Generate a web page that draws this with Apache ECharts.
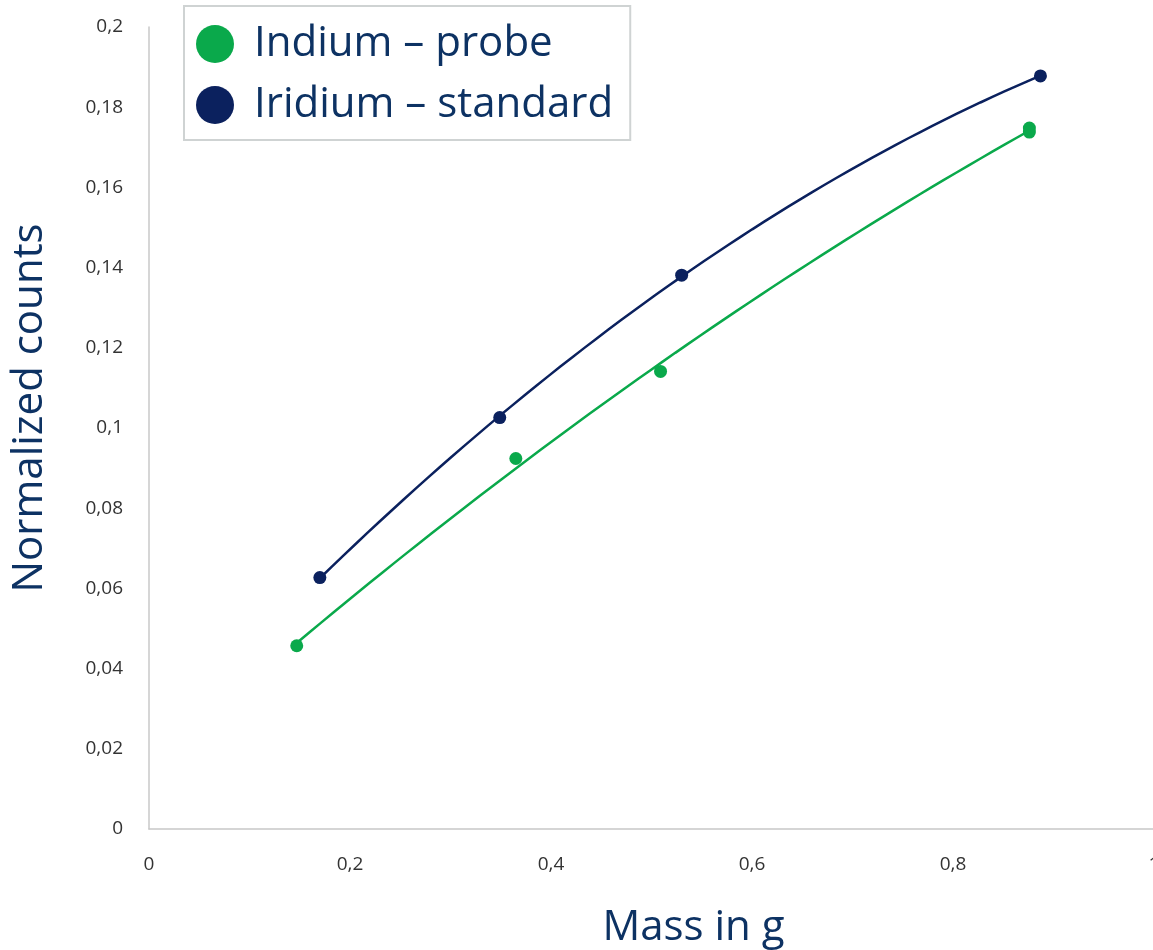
<!DOCTYPE html>
<html>
<head>
<meta charset="utf-8">
<script src="https://cdn.jsdelivr.net/npm/echarts@6/dist/echarts.min.js"></script>
<style>
  html, body { margin: 0; padding: 0; background: #ffffff; overflow: hidden; }
  #chart { width: 1153px; height: 950px; }
</style>
</head>
<body>
<div id="chart"></div>
<script>
// Measured samples: mass (g) and normalized counts
const indiumMass = [0.147, 0.365, 0.509, 0.876, 0.876];
const indiumCounts = [0.0457, 0.0924, 0.1141, 0.1748, 0.1738];
const iridiumMass = [0.170, 0.349, 0.530, 0.887];
const iridiumCounts = [0.0627, 0.1026, 0.1381, 0.1878];

const seriesNames = ['Indium – probe', 'Iridium – standard'];
const GREEN = '#0aa94b';
const NAVY = '#0b215e';
const TEXT = '#0d3263';

// Least-squares quadratic trend line through the measured points
function quadFit(xs, ys) {
  let s = [0, 0, 0, 0, 0], t = [0, 0, 0];
  for (let i = 0; i < xs.length; i++) {
    let p = 1;
    for (let k = 0; k < 5; k++) { s[k] += p; if (k < 3) t[k] += p * ys[i]; p *= xs[i]; }
  }
  const A = [[s[0], s[1], s[2], t[0]], [s[1], s[2], s[3], t[1]], [s[2], s[3], s[4], t[2]]];
  for (let c = 0; c < 3; c++) {
    for (let r = c + 1; r < 3; r++) {
      const f = A[r][c] / A[c][c];
      for (let k = c; k < 4; k++) A[r][k] -= f * A[c][k];
    }
  }
  const b = [0, 0, 0];
  for (let r = 2; r >= 0; r--) {
    let v = A[r][3];
    for (let k = r + 1; k < 3; k++) v -= A[r][k] * b[k];
    b[r] = v / A[r][r];
  }
  return b;
}
function trendLine(xs, ys) {
  const b = quadFit(xs, ys);
  const lo = Math.min(...xs), hi = Math.max(...xs);
  const out = [];
  const n = 60;
  for (let i = 0; i <= n; i++) {
    const x = lo + (hi - lo) * i / n;
    out.push([x, b[0] + b[1] * x + b[2] * x * x]);
  }
  return out;
}
const pairs = (xs, ys) => xs.map((x, i) => [x, ys[i]]);
const comma = v => String(+v.toFixed(2)).replace('.', ',');

const chart = echarts.init(document.getElementById('chart'));
chart.setOption({
  backgroundColor: '#ffffff',
  textStyle: { fontFamily: 'Open Sans' },
  animation: false,
  grid: {
    left: 149, width: 1005, top: 27, height: 802,
    containLabel: false, outerBoundsMode: 'none'
  },
  legend: {
    orient: 'vertical',
    left: 184,
    top: 6,
    data: seriesNames,
    icon: 'circle',
    itemWidth: 38,
    itemHeight: 38,
    itemGap: 19,
    padding: [17, 17, 14, 12],
    borderColor: '#cfd3d3',
    borderWidth: 2,
    textStyle: { fontSize: 42, color: TEXT, lineHeight: 38, padding: [0, 0, 0, 15] }
  },
  xAxis: {
    type: 'value',
    min: 0, max: 1, interval: 0.2,
    name: 'Mass in g',
    nameLocation: 'middle',
    nameGap: 78,
    nameTextStyle: { fontSize: 42, color: TEXT, padding: [0, 0, 0, 84] },
    axisLine: { show: true, lineStyle: { color: '#c8c8c8', width: 1.5 } },
    axisTick: { show: false },
    splitLine: { show: false },
    axisLabel: { fontSize: 19, color: '#333333', margin: 26, formatter: comma }
  },
  yAxis: {
    type: 'value',
    min: 0, max: 0.2, interval: 0.02,
    name: 'Normalized counts',
    nameLocation: 'middle',
    nameGap: 98,
    nameTextStyle: { fontSize: 42, color: TEXT, padding: [0, 0, 0, 40] },
    axisLine: { show: true, lineStyle: { color: '#c8c8c8', width: 1.5 } },
    axisTick: { show: false },
    splitLine: { show: false },
    axisLabel: { fontSize: 19, color: '#333333', margin: 26, formatter: comma }
  },
  series: [
    {
      name: seriesNames[0], type: 'scatter', data: pairs(indiumMass, indiumCounts),
      symbolSize: 13, itemStyle: { color: GREEN, opacity: 1 }, z: 3
    },
    {
      name: seriesNames[1], type: 'scatter', data: pairs(iridiumMass, iridiumCounts),
      symbolSize: 13, itemStyle: { color: NAVY, opacity: 1 }, z: 3
    },
    {
      name: 'Indium trend', type: 'line', data: trendLine(indiumMass, indiumCounts),
      showSymbol: false, smooth: false, lineStyle: { color: GREEN, width: 2.5 }, z: 2
    },
    {
      name: 'Iridium trend', type: 'line', data: trendLine(iridiumMass, iridiumCounts),
      showSymbol: false, smooth: false, lineStyle: { color: NAVY, width: 2.5 }, z: 2
    }
  ]
});
</script>
</body>
</html>
